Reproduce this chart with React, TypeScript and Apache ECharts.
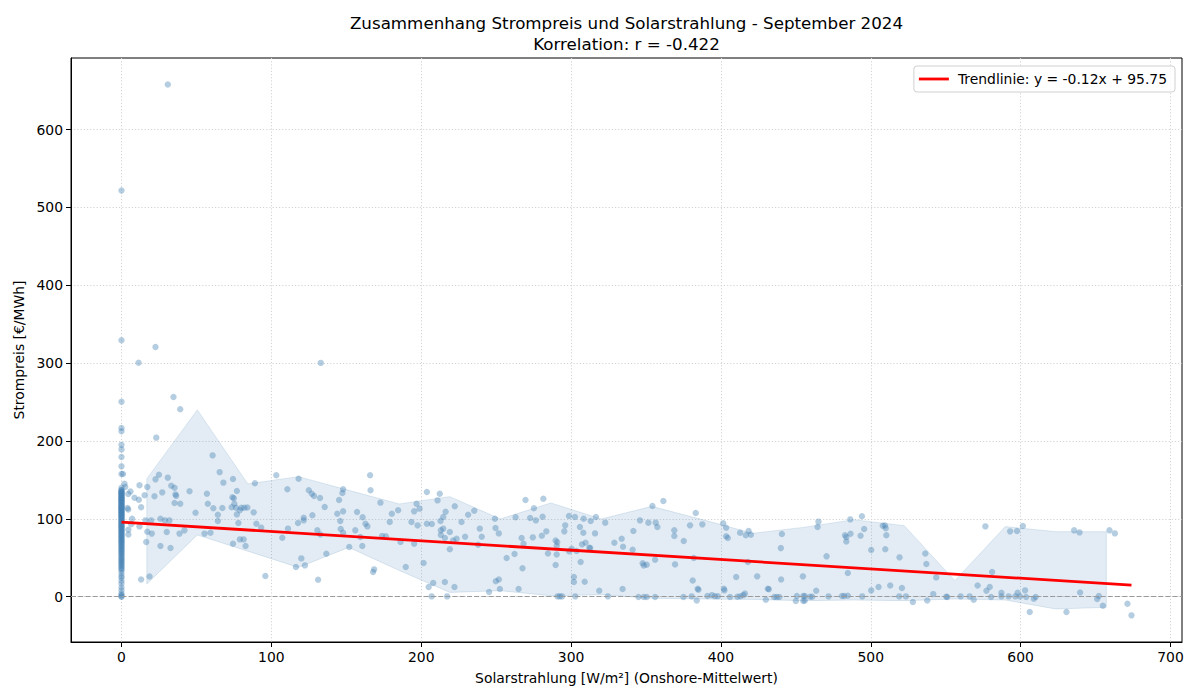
import { useEffect, useRef } from "react";
import * as echarts from "echarts";

// Hours without solar radiation (x = 0): price in €/MWh
const nightPrices = [
  521.6, 329.3, 250.5, 216.7, 212.4, 195.0, 189.2, 179.4, 167.4, 157.6,
  139.8, 137.2, 136.5, 135.1, 134.6, 133.9, 132.7, 131.8, 131.2, 130.5,
  129.4, 128.8, 127.6, 126.9, 126.1, 125.3, 124.7, 123.5, 122.8, 121.9,
  121.2, 120.4, 119.1, 118.6, 117.3, 116.8, 115.9, 115.2, 114.1, 113.5,
  112.7, 111.8, 110.6, 109.9, 109.2, 108.1, 107.4, 106.3, 105.7, 104.5,
  103.9, 102.8, 101.6, 100.9, 99.7, 98.8, 97.5, 96.9, 95.6, 94.8,
  93.4, 92.7, 91.5, 90.3, 89.8, 88.6, 87.2, 86.5, 85.1, 84.3,
  83.2, 82.1, 80.7, 79.9, 78.4, 77.6, 76.2, 75.1, 73.9, 72.8,
  71.4, 70.2, 69.5, 68.1, 66.8, 65.4, 64.1, 62.9, 61.3, 60.2,
  58.7, 57.4, 55.8, 54.6, 52.9, 51.3, 49.8, 48.1, 46.7, 45.2,
  43.5, 41.9, 40.6, 38.8, 37.1, 35.4, 33.6, 30.2, 26.7, 24.3,
  20.5, 16.9, 12.2, 8.4, 4.2, 2.1, 0.4, 0.0,
];

// Hours with solar radiation: [W/m², €/MWh]
const dayPoints: [number, number][] = [
  [30.9, 657.8], [22.7, 320.7], [11.4, 300.6], [133, 300.3],
  [34.7, 256.5], [39.2, 240.7], [23.2, 204.3], [60.8, 181.5], [65.5, 160], [25, 156.7],
  [22.7, 150.7], [30.9, 152.9], [68, 146.5], [74.4, 151.1], [89, 145.6], [103.3, 155.9],
  [2, 145], [2.5, 141], [12, 143], [17.2, 140.8], [33.2, 142.6], [35.4, 140], [27.2, 134],
  [22, 128.9], [15.4, 130.2], [8.7, 127.2], [11.6, 124.6], [4.5, 132], [6, 135], [45.4, 135.3],
  [36, 131.4], [36.5, 129.5], [57, 132.3], [74, 127.6], [75, 126.5], [77, 135.7], [57.6, 119.5],
  [35.4, 120.3], [39.2, 119.5], [61.3, 113.5], [67.3, 113.9], [64.3, 105.3], [75.3, 119.5],
  [76.4, 114.3], [73.5, 115], [77, 105.7], [80, 114.3], [82, 114.3], [84, 114.5], [79, 111],
  [88.2, 108.3], [90, 93.8], [93.2, 88.7], [78, 94.6], [64.3, 97.2], [49.4, 107.9], [4, 113.8],
  [4.5, 112], [7.1, 100.2], [13.1, 115], [16, 98], [19.8, 98], [26, 100.2], [29, 98], [32, 98],
  [12, 90.3], [6.5, 93], [4.6, 86], [4.6, 80], [17.2, 83.5], [20.2, 81], [16.5, 70.2], [26, 65],
  [32.7, 62.5], [30.2, 83], [38.7, 81], [42, 85.2], [55.4, 81], [59.4, 82.2], [74.4, 68],
  [79, 73.6], [81.5, 73.6], [82.8, 65], [96, 26.5], [18.7, 26], [13.1, 22.2], [1, 157.6],
  [118.2, 151.6], [110.7, 137.9], [125, 136.6], [127, 132.3], [128.5, 129.3], [132.5, 126.7],
  [135.6, 115.1], [127.4, 104.5], [121.6, 101.5], [121.6, 98], [117.8, 94.6], [111.1, 87.4],
  [107.3, 75.8], [130.7, 85.2], [132.7, 80], [120, 49.2], [116.4, 38], [122.4, 40.2],
  [131.2, 21.8], [136.7, 55.2], [147.9, 137.9], [147.4, 133.1], [145.2, 124.1], [144, 106.6],
  [147.9, 109.6], [146, 97.1], [146.3, 86.9], [147.9, 82.2], [152, 63.7], [156, 85.2],
  [157.2, 108.7], [159.4, 76.6], [160.7, 65], [160.9, 101.9], [162.8, 93.8], [164.1, 90.3],
  [165.9, 155.9], [166.2, 136.6], [168.6, 35.1], [167.9, 31.6], [172.8, 120.8], [173.9, 77.9],
  [176.4, 77.5], [179, 95.8], [180.4, 106.6], [184.6, 110.9], [186.2, 70.2], [189.7, 38],
  [193.5, 95.8], [195.3, 68.1], [195.3, 109.6], [196.9, 119.5], [198.9, 113.1], [197.6, 91.6],
  [201.6, 43.2], [203.8, 134.4], [203.8, 93.8], [207.1, 93.3], [205, 12.4], [208, 17.5],
  [207, 0.4], [210.9, 123.7], [212.4, 132.3], [212.9, 97.1], [214.7, 102.3], [216.3, 109.2],
  [213.1, 85.2], [213.1, 79.1], [214.7, 87.4], [215.8, 75.3], [219.1, 60.8], [215.8, 18.8],
  [217.3, 0.4], [222.2, 12.4], [222.4, 116.1], [221.3, 72.3],
  [219.1, 83], [223.6, 74.5], [226.9, 95.8], [231.3, 105.3], [235.4, 110.5], [229.3, 77.1],
  [239.1, 87.4], [240.4, 77.1], [238, 66.8], [245.3, 5.9], [249.2, 100.2], [249.6, 88.1],
  [251.8, 81.3], [249.8, 19.7], [251.8, 22.2], [252.5, 9.8], [257, 49.6], [262.3, 54.7],
  [263, 101.9], [265, 9.8], [267, 75.3], [268.3, 68.1], [267.6, 36.4], [269.6, 124.1],
  [272.7, 101], [275.2, 113.5], [276.5, 98], [274.5, 76.2], [280.5, 78.4], [281, 102.8],
  [281.5, 125.9], [283.5, 83.9], [284.6, 55.6], [289.7, 72.3], [290.8, 69.8], [290.4, 65],
  [290.4, 54.3], [289.7, 40.6], [291, 0.4], [292.5, 0.4], [294, 0.4], [295.5, 83.9],
  [296.1, 91.6], [298.6, 103.6], [302.6, 102.3], [298.8, 58.2], [300.4, 61.7], [303.7, 58.6],
  [301.9, 25.2], [301.9, 18.8], [302.8, 0.4], [305.9, 89.4], [308.2, 82.2], [308.4, 100.2],
  [306.4, 44.5], [307.3, 67.2], [309.7, 69.4], [312.2, 62.9], [312.8, 62.4], [313.1, 97.1],
  [316.6, 102.3], [316, 81.3], [309.1, 19.3], [318.8, 7.7], [322.8, 95.1], [324.6, 0.4],
  [328.9, 69.4], [333.8, 74.5], [334.7, 64.2], [334.4, 9.8],
  [341.6, 84.3], [341.1, 60.4], [346, 98], [347.8, 43], [348.5, 40], [350.5, 41], [345, -0.5],
  [348.5, -0.5], [350.5, -0.5], [351.6, 95.1], [354.3, 116.4], [356.5, 95.1], [357.6, 89.4],
  [356.1, 47.5], [356.1, -0.5], [361.6, 122.8], [368.9, 85.2], [368.9, 77.9], [369.4, 41.5],
  [375.2, 71.4], [375, -0.5], [379.4, 91.6], [381.9, 49.6], [380.5, 0.4], [383.9, -4.8],
  [381.2, 20.9], [383.2, 107.4], [384.5, 10.3], [385, 9], [387.6, 92.9], [391, 1], [394, 2],
  [396, 0.5], [398, 0.5], [401.5, 94.2], [403.5, 88.6], [403.5, 77.5], [404.6, 75.3],
  [402, 10.3], [402.3, 8.1], [406.1, -0.5], [410.2, 25.2], [411, 0], [413, 0.5], [415, 2],
  [416, 4], [412.8, 82.2], [416.6, 79], [418.5, 84.5], [420, 79.5], [418, 44.5], [424.2, 26.1],
  [430, -3.9], [431.3, 10.3], [432, 9.5], [435.6, -0.5], [437.3, -0.5], [439, -0.5],
  [440, 62.4], [440.7, 80.4], [440.2, 22.2], [450, -5.6], [450.7, 0.8], [455, 0.8],
  [455, -5.6], [454.7, 26.1],
  [456, 1], [456, -5], [459.5, 0], [461, 0], [463.6, 7.7], [464.5, 89.4], [465.1, 96.4],
  [470.5, 51.8], [471.8, 0.4], [480.8, 0.8], [482.3, 0.8], [484.7, 1.2], [482.8, 79],
  [483.7, 76.5], [483.7, 71], [484.7, 30.3], [486.3, 99.3], [486.5, 80.9], [493.2, 78.4],
  [494.1, 103.2], [495.6, 86.9], [494.3, 0.4], [500.3, 59.9], [500.3, 8.1], [505.2, 12.4],
  [508, 91], [509.5, 91.5], [510, 88], [510.4, 78.8], [509.7, 60.8], [513, 14.5],
  [519.2, 50.5], [519, 0.4], [523.5, 0.4], [520.8, 11.1], [528.1, -6.9], [536.4, 55.6],
  [537.1, 41.9], [537.7, -4.8], [541.7, 3.3], [543.7, 24.8], [550.4, 0], [551, -0.5],
  [560, 0.4], [566, 0.4], [568.7, -3.9], [571.3, 14.5],
  [576.5, 90.3], [577.2, 7.7], [579.4, 12.4], [581, 31.6], [580.3, -0.5], [587.2, 5.1],
  [587.2, 0.4], [593, 83.9], [597.6, 84.3], [601.5, 90.7], [592, 0.4], [596.5, 0.4], [598, 5],
  [599.6, 0.4], [603, 8.1], [603.7, -0.5], [606.1, -19.8], [608.8, -2.6], [610.1, -0.5],
  [630.6, -19.8], [635.7, 85.2], [639.3, 82.6], [639.7, 5.5], [651.1, -3.1], [652.2, 0.8],
  [654.9, -11.6], [659.3, 85.2], [662.9, 81.3], [671.3, -9], [674, -24],
];

// Spread band per radiation bin: bin centre, upper and lower bound
const bandCenters = [
  16.9, 50.6, 84.3, 118.0, 151.7, 185.4, 219.1, 252.8, 286.5, 320.2,
  353.9, 387.6, 421.3, 455.0, 488.7, 522.4, 556.1, 589.8, 623.5, 657.2,
];
const bandUpper = [
  151.6, 239.9, 144.8, 154.2, 136.6, 119.1, 128.5, 99.8, 120.4, 99.8,
  116.0, 99.0, 81.4, 89.0, 98.9, 91.2, 20.6, 90.0, 83.5, 83.5,
];
const bandLower = [
  16.3, 79.3, 58.5, 37.6, 63.3, 33.6, 5.5, 7.7, 1.3, 2.6,
  -2.0, -3.0, -3.5, -5.1, -4.3, -5.1, -3.0, -4.3, -15.8, -13.7,
];

const trendSlope = -0.12;
const trendIntercept = 95.75;
const correlation = -0.422;

const xTicks = [0, 100, 200, 300, 400, 500, 600, 700];
const yTicks = [0, 100, 200, 300, 400, 500, 600];

const FONT = "DejaVu Sans";
const STEEL = "rgb(70,130,180)";

export default function App() {
  const ref = useRef<HTMLDivElement>(null);

  useEffect(() => {
    const chart = echarts.init(ref.current!, null, { renderer: "svg" });

    const points = [
      ...nightPrices.map((p) => [0, p]),
      ...dayPoints.map(([x, y]) => [x, y]),
    ];
    const maxX = Math.max(...dayPoints.map((d) => d[0]));
    const trendName = `Trendlinie: y = ${trendSlope.toFixed(2)}x + ${trendIntercept.toFixed(2)}`;

    const gridLine = { show: true, lineStyle: { color: "#d4d4d4", type: [1.2, 2] as any, width: 1 } };

    chart.setOption({
      animation: false,
      textStyle: { fontFamily: FONT },
      graphic: [
        {
          type: "text",
          x: 626.5,
          y: 23,
          style: {
            text: "Zusammenhang Strompreis und Solarstrahlung - September 2024",
            fontFamily: FONT,
            fontSize: 16.7,
            fill: "#000",
            align: "center",
            verticalAlign: "middle",
          },
        },
        {
          type: "text",
          x: 626.5,
          y: 44,
          style: {
            text: `Korrelation: r = ${correlation.toFixed(3)}`,
            fontFamily: FONT,
            fontSize: 16.7,
            fill: "#000",
            align: "center",
            verticalAlign: "middle",
          },
        },
      ],
      legend: {
        data: [{ name: trendName, icon: "rect" }],
        right: 25,
        top: 66,
        orient: "vertical",
        itemWidth: 30,
        itemHeight: 2.8,
        padding: [6, 8, 6, 5],
        borderColor: "#d0d0d0",
        borderWidth: 1,
        borderRadius: 3,
        backgroundColor: "rgba(255,255,255,0.8)",
        textStyle: { fontFamily: FONT, fontSize: 13.9, color: "#000", padding: [0, 0, 0, 4] },
      },
      grid: {
        left: 71,
        right: 18,
        top: 58,
        bottom: 58,
        show: true,
        borderColor: "#000",
        borderWidth: 1,
        backgroundColor: "transparent",
      },
      xAxis: {
        type: "value",
        min: -33.7,
        max: 707.7,
        name: "Solarstrahlung [W/m²] (Onshore-Mittelwert)",
        nameLocation: "middle",
        nameGap: 29,
        nameTextStyle: { fontFamily: FONT, fontSize: 13.9, color: "#000" },
        axisLine: { show: true, onZero: false, lineStyle: { color: "#000", width: 1 } },
        axisTick: { show: true, customValues: xTicks, length: 5, lineStyle: { color: "#000" } },
        axisLabel: {
          customValues: xTicks,
          fontFamily: FONT,
          fontSize: 13.9,
          color: "#000",
          margin: 8,
        },
        splitLine: gridLine,
      },
      yAxis: {
        type: "value",
        min: -58.2,
        max: 691.9,
        name: "Strompreis [€/MWh]",
        nameLocation: "middle",
        nameGap: 44,
        nameTextStyle: { fontFamily: FONT, fontSize: 13.9, color: "#000" },
        axisLine: { show: true, onZero: false, lineStyle: { color: "#000", width: 1 } },
        axisTick: { show: true, customValues: yTicks, length: 5, lineStyle: { color: "#000" } },
        axisLabel: {
          customValues: yTicks,
          fontFamily: FONT,
          fontSize: 13.9,
          color: "#000",
          margin: 8,
        },
        splitLine: gridLine,
      },
      series: [
        {
          type: "custom",
          name: "Streuband",
          silent: true,
          z: 1,
          data: bandCenters.map((c, i) => [c, bandUpper[i], bandLower[i]]),
          encode: { x: 0, y: [1, 2] },
          renderItem: (params: any, api: any) => {
            if (params.dataIndex !== 0) return null;
            const top = bandCenters.map((c, i) => api.coord([c, bandUpper[i]]));
            const bottom = bandCenters.map((c, i) => api.coord([c, bandLower[i]])).reverse();
            return {
              type: "polygon",
              shape: { points: top.concat(bottom) },
              style: {
                fill: "rgba(70,130,180,0.15)",
                stroke: "rgba(70,130,180,0.17)",
                lineWidth: 1,
              },
            };
          },
        },
        {
          type: "scatter",
          name: "Stunden",
          z: 2,
          symbolSize: 6.4,
          itemStyle: { color: STEEL, opacity: 0.4 },
          data: points,
          markLine: {
            silent: true,
            symbol: "none",
            label: { show: false },
            lineStyle: { color: "#9a9a9a", type: [5, 2.2], width: 1.1 },
            data: [{ yAxis: 0 }],
          },
        },
        {
          type: "line",
          name: trendName,
          z: 3,
          symbol: "none",
          lineStyle: { color: "#ff0000", width: 2.8 },
          itemStyle: { color: "#ff0000" },
          data: [
            [0, trendIntercept],
            [maxX, trendIntercept + trendSlope * maxX],
          ],
        },
      ],
    });

    return () => chart.dispose();
  }, []);

  return (
    <div
      ref={ref}
      style={{ position: "absolute", left: 0, top: 0, width: 1200, height: 700, background: "#fff" }}
    />
  );
}
